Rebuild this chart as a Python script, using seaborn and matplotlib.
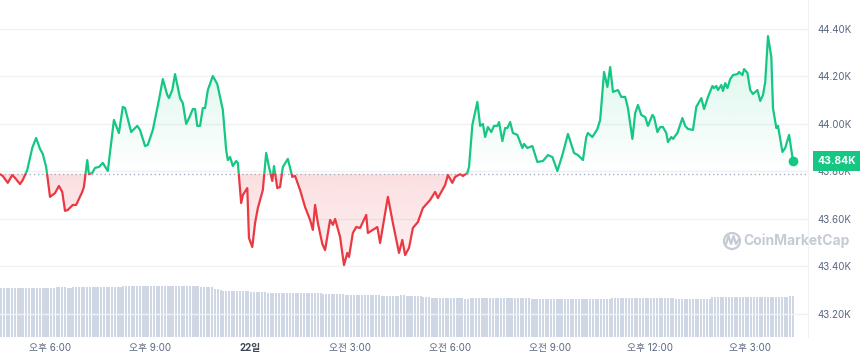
import numpy as np
import pandas as pd
import matplotlib
matplotlib.use("Agg")
import matplotlib.pyplot as plt
import matplotlib.dates as mdates
import matplotlib.transforms as mtrans
from matplotlib.patches import Rectangle, PathPatch, Circle
from matplotlib.lines import Line2D
import seaborn as sns

# BTC price, last 24h (minutes after 21 Dec 16:30, price in K USD)
start = pd.Timestamp("2023-12-21 16:30")
minutes = [0, 5, 14, 22, 27, 36, 41, 49, 58, 65,
           72, 77, 83, 85, 90, 99, 106, 112, 117, 122,
           131, 137, 148, 151, 157, 160, 166, 171, 178, 185,
           194, 205, 214, 221, 225, 236, 247, 252, 261, 266,
           275, 286, 293, 301, 304, 310, 315, 324, 329, 335,
           342, 347, 351, 355, 360, 365, 369, 374, 383, 391,
           401, 407, 410, 414, 419, 425, 428, 434, 437, 445,
           448, 454, 459, 464, 473, 479, 484, 490, 493, 499,
           504, 509, 518, 526, 531, 540, 549, 558, 563, 567,
           572, 580, 585, 594, 599, 603, 612, 619, 625, 628,
           635, 641, 648, 659, 662, 679, 684, 698, 707, 718,
           724, 729, 736, 743, 752, 761, 774, 783, 788, 796,
           801, 806, 814, 819, 828, 833, 841, 844, 850, 859,
           864, 869, 873, 878, 884, 889, 895, 898, 904, 909,
           913, 918, 923, 931, 940, 943, 949, 958, 967, 977,
           986, 994, 1003, 1012, 1022, 1033, 1040, 1049, 1055, 1058,
           1066, 1075, 1080, 1087, 1093, 1098, 1103, 1112, 1118, 1125,
           1130, 1138, 1143, 1148, 1154, 1161, 1166, 1174, 1177, 1183,
           1188, 1193, 1199, 1202, 1208, 1211, 1219, 1228, 1233, 1238,
           1247, 1253, 1262, 1267, 1274, 1282, 1285, 1289, 1292, 1298,
           1301, 1305, 1309, 1314, 1319, 1327, 1330, 1336, 1339, 1345,
           1350, 1355, 1363, 1368, 1373, 1377, 1382, 1388, 1391, 1397,
           1400, 1408, 1413, 1420, 1427]
prices = [43.789, 43.781, 43.752, 43.785, 43.773, 43.747, 43.764, 43.806, 43.899, 43.941,
          43.895, 43.874, 43.819, 43.785, 43.693, 43.709, 43.739, 43.714, 43.634, 43.638,
          43.659, 43.659, 43.714, 43.735, 43.848, 43.789, 43.794, 43.815, 43.819, 43.836,
          43.802, 44.017, 43.962, 44.072, 44.067, 43.966, 43.992, 43.975, 43.907, 43.912,
          43.975, 44.101, 44.189, 44.122, 44.109, 44.143, 44.210, 44.109, 44.088, 44.000,
          44.034, 44.063, 44.063, 43.992, 43.992, 44.067, 44.067, 44.143, 44.202, 44.168,
          44.059, 43.890, 43.848, 43.861, 43.823, 43.844, 43.836, 43.667, 43.701, 43.730,
          43.520, 43.482, 43.583, 43.646, 43.722, 43.878, 43.819, 43.760, 43.823, 43.730,
          43.735, 43.819, 43.853, 43.777, 43.781, 43.722, 43.650, 43.596, 43.554, 43.659,
          43.583, 43.495, 43.469, 43.596, 43.575, 43.600, 43.524, 43.406, 43.457, 43.440,
          43.541, 43.566, 43.562, 43.617, 43.541, 43.566, 43.499, 43.693, 43.583, 43.457,
          43.512, 43.448, 43.478, 43.562, 43.587, 43.646, 43.680, 43.714, 43.688, 43.722,
          43.743, 43.785, 43.752, 43.777, 43.789, 43.781, 43.794, 43.819, 43.996, 44.093,
          43.992, 44.000, 43.945, 43.987, 43.966, 43.992, 43.992, 44.008, 43.928, 43.983,
          43.983, 44.008, 43.962, 43.954, 43.899, 43.916, 43.899, 43.907, 43.840, 43.844,
          43.869, 43.861, 43.802, 43.869, 43.958, 43.878, 43.869, 43.848, 43.945, 43.962,
          43.945, 43.979, 44.017, 44.219, 44.156, 44.240, 44.135, 44.143, 44.114, 44.114,
          44.067, 43.937, 44.046, 44.080, 44.038, 44.029, 43.992, 44.038, 44.029, 43.966,
          43.987, 43.987, 43.962, 43.924, 43.945, 43.937, 43.962, 44.025, 43.992, 43.979,
          43.975, 44.072, 44.109, 44.063, 44.114, 44.160, 44.151, 44.160, 44.143, 44.164,
          44.139, 44.172, 44.151, 44.189, 44.206, 44.210, 44.219, 44.206, 44.231, 44.215,
          44.143, 44.126, 44.143, 44.097, 44.122, 44.177, 44.370, 44.282, 44.067, 43.983,
          43.992, 43.882, 43.899, 43.954, 43.844]

# 24h volume (billions), one bar every 5 minutes
volume = [24.5, 24.5, 24.5, 24.5, 24.5, 24.5, 24.5, 24.5, 24.5, 24.5, 24.5, 24.5,
          24.5, 24.5, 24.5, 24.5, 24.5, 24.5, 24.5, 24.5, 25.0, 25.0, 25.0, 25.0,
          24.5, 24.5, 25.0, 25.0, 25.0, 25.0, 25.0, 25.0, 25.0, 25.0, 25.0, 25.0,
          25.0, 25.0, 25.0, 25.0, 25.0, 25.0, 25.0, 25.0, 25.5, 25.5, 25.5, 25.5,
          25.5, 25.5, 25.5, 25.5, 25.5, 25.5, 25.5, 25.5, 25.5, 25.5, 25.5, 25.5,
          25.5, 25.5, 25.5, 25.5, 25.5, 25.5, 25.5, 25.5, 25.5, 25.5, 25.5, 25.5,
          25.0, 25.0, 25.0, 25.0, 25.0, 24.0, 24.0, 23.5, 23.0, 23.0, 23.0, 23.0,
          23.0, 23.0, 23.0, 23.0, 23.0, 23.0, 22.5, 22.5, 22.5, 22.5, 22.5, 22.5,
          22.0, 22.0, 22.0, 22.0, 22.0, 22.0, 22.0, 22.0, 22.0, 22.0, 22.0, 22.0,
          22.0, 22.0, 22.0, 22.0, 22.0, 22.0, 22.0, 22.0, 21.5, 21.5, 21.5, 21.5,
          21.5, 21.5, 21.5, 21.5, 21.0, 21.0, 21.0, 21.0, 21.0, 21.0, 21.0, 21.0,
          21.0, 21.0, 21.0, 21.0, 21.0, 20.5, 20.5, 20.5, 20.5, 20.5, 20.5, 20.5,
          21.0, 21.0, 20.5, 20.5, 20.5, 20.5, 20.5, 20.5, 20.0, 20.0, 20.0, 19.5,
          19.5, 19.5, 19.5, 19.5, 19.5, 19.5, 19.5, 19.5, 19.5, 19.5, 19.5, 19.0,
          19.0, 19.5, 19.5, 19.5, 19.5, 19.5, 19.5, 19.5, 19.5, 19.5, 19.5, 19.5,
          19.5, 19.5, 19.5, 19.5, 19.5, 19.5, 19.5, 19.5, 19.5, 19.5, 19.5, 19.0,
          19.0, 19.0, 19.0, 19.0, 19.0, 19.0, 19.0, 19.0, 19.0, 19.0, 19.0, 19.0,
          19.0, 19.0, 19.0, 19.0, 19.0, 19.0, 19.0, 19.0, 19.0, 19.0, 19.0, 19.0,
          19.0, 19.0, 19.0, 19.0, 19.5, 19.5, 19.5, 19.5, 19.5, 19.5, 19.5, 19.5,
          19.5, 19.5, 19.5, 19.5, 19.5, 19.5, 19.5, 19.5, 19.5, 19.5, 19.5, 19.5,
          19.5, 19.5, 19.5, 19.0, 19.0, 19.0, 19.0, 19.0, 19.0, 19.0, 19.0, 19.0,
          19.0, 19.0, 19.0, 19.0, 20.0, 20.0, 20.0, 20.0, 20.0, 20.0, 20.0, 20.0,
          20.0, 20.0, 20.0, 20.0, 20.0, 20.0, 20.0, 20.0, 20.0, 20.0, 20.0, 20.0,
          20.0, 20.0, 20.0, 20.0, 20.0, 20.0, 20.0, 20.0, 20.5, 20.5]

tick_times = ["2023-12-21 18:00", "2023-12-21 21:00", "2023-12-22 00:00", "2023-12-22 03:00",
              "2023-12-22 06:00", "2023-12-22 09:00", "2023-12-22 12:00", "2023-12-22 15:00"]
tick_labels = ["오후 6:00", "오후 9:00", "22일", "오전 3:00", "오전 6:00", "오전 9:00", "오후 12:00", "오후 3:00"]
price_ticks = [43.2, 43.4, 43.6, 43.8, 44.0, 44.2, 44.4]

GREEN = "#16c784"
RED = "#ea3943"
GREY = "#58667e"

sns.set_style("white")
plt.rcParams["font.family"] = ["Inter", "Noto Sans CJK KR", "DejaVu Sans"]

df = pd.DataFrame({"time": start + pd.to_timedelta(minutes, unit="m"), "price": prices})
df["x"] = mdates.date2num(df["time"])
vol = pd.DataFrame({"time": start + pd.to_timedelta(np.arange(len(volume)) * 5, unit="m"),
                    "volume": volume})
base = prices[0]

x0 = mdates.date2num(start)
x1 = mdates.date2num(start + pd.Timedelta(minutes=1454))
ylo, yhi = 43.103, 44.522

fig = plt.figure(figsize=(8.6, 3.6), dpi=100)
rect = [0, 23 / 360, 808 / 860, 337 / 360]

# volume bars underneath
ax_v = fig.add_axes(rect)
ax_v.bar(mdates.date2num(vol["time"]), vol["volume"], width=3.7 / 1440, align="edge",
         color="#cfd6e4", linewidth=0)
ax_v.set_xlim(x0, x1)
ax_v.set_ylim(0, 168.5)
ax_v.axis("off")

ax = fig.add_axes(rect)
ax.patch.set_visible(False)
blend = mtrans.blended_transform_factory(ax.transAxes, ax.transData)

# gradient fills clipped to the area between line and baseline
poly = ax.fill_between(df["x"], df["price"], base, color="none", linewidth=0)
clip = PathPatch(poly.get_paths()[0], transform=ax.transData, facecolor="none", edgecolor="none")
ax.add_patch(clip)

g = np.zeros((256, 1, 4))
g[..., :3] = matplotlib.colors.to_rgb(GREEN)
g[:, 0, 3] = np.linspace(0.0, 0.22, 256)
im = ax.imshow(g, extent=[x0, x1, base, yhi], origin="lower", aspect="auto", zorder=1)
im.set_clip_path(clip)

r = np.zeros((256, 1, 4))
r[..., :3] = matplotlib.colors.to_rgb(RED)
r[:, 0, 3] = np.linspace(0.0, 0.16, 256)
im2 = ax.imshow(r, extent=[x0, x1, ylo, base], origin="lower", aspect="auto", zorder=1)
im2.set_clip_path(clip)

# price line, green above the baseline and red below
sns.lineplot(data=df, x="x", y="price", ax=ax, color=GREEN, linewidth=1.6, zorder=3)
ax.lines[-1].set_clip_path(Rectangle((0, base), 1, 5, transform=blend))
sns.lineplot(data=df, x="x", y="price", ax=ax, color=RED, linewidth=1.6, zorder=3)
ax.lines[-1].set_clip_path(Rectangle((0, base - 5), 1, 5, transform=blend))

ax.axhline(base, color="#a6b0c3", linewidth=1, linestyle=(0, (1, 2)), zorder=2)
ax.plot(df["x"].iloc[-1], df["price"].iloc[-1], "o", color=GREEN, markersize=6, zorder=4)

ax.set_xlim(x0, x1)
ax.set_ylim(ylo, yhi)
ax.set_xlabel("")
ax.set_ylabel("")

ax.yaxis.tick_right()
ax.set_yticks(price_ticks)
ax.set_yticklabels([f"{v:.2f}K" for v in price_ticks])
ax.tick_params(axis="y", length=0, pad=7, labelsize=7, labelcolor=GREY)
ax.grid(axis="y", color="#eff2f5", linewidth=1)

ax.set_xticks(mdates.date2num(pd.to_datetime(tick_times)))
ax.set_xticklabels(tick_labels)
ax.tick_params(axis="x", length=0, pad=4, labelsize=7, labelcolor=GREY)
for lab in ax.get_xticklabels():
    if lab.get_text() == "22일":
        lab.set_fontweight("bold")
        lab.set_color("#3d4655")

for s in ["top", "left", "bottom"]:
    ax.spines[s].set_visible(False)
ax.spines["right"].set_color("#eff2f5")

# current price badge
ax.annotate(f"{prices[-1]:.2f}K", xy=(1, prices[-1]), xycoords=blend,
            xytext=(7, 0), textcoords="offset points", ha="left", va="center",
            color="white", fontsize=7.5, fontweight="bold", annotation_clip=False,
            bbox=dict(boxstyle="square,pad=0.45", fc=GREEN, ec="none"), zorder=5)

# watermark
wm = "#c5cbd5"
fig.text(743 / 860, 1 - 241 / 360, "CoinMarketCap", ha="left", va="center",
         color=wm, fontsize=10, fontweight="bold")
fig.add_artist(Circle((732, 119), 8, transform=mtrans.IdentityTransform(),
                      fill=False, edgecolor=wm, linewidth=1.6))
fig.add_artist(Line2D([726, 728.5, 731, 733.5, 736, 739], [116, 124, 116, 124, 116, 121],
                      transform=mtrans.IdentityTransform(), color=wm, linewidth=1.6,
                      solid_joinstyle="round", solid_capstyle="round"))

fig.savefig("out.png", dpi=100)
